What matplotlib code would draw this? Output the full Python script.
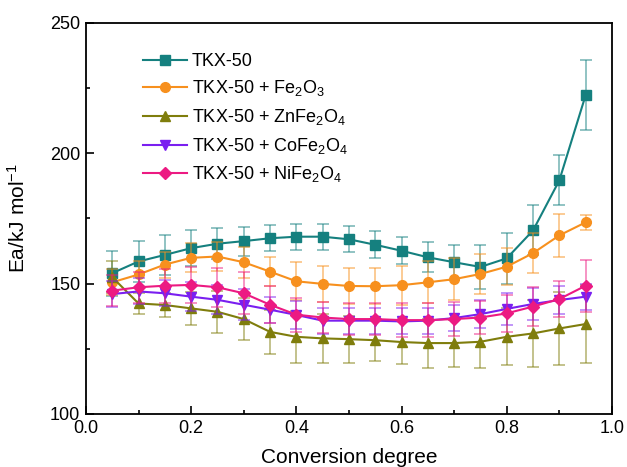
import matplotlib.pyplot as plt
import numpy as np
from matplotlib.ticker import MultipleLocator

plt.rcParams['font.family'] = ['Liberation Sans', 'DejaVu Sans']
plt.rcParams['mathtext.fontset'] = 'custom'
plt.rcParams['mathtext.rm'] = 'Liberation Sans'
plt.rcParams['mathtext.it'] = 'Liberation Sans'

# conversion degree (alpha)
alpha = [0.05, 0.10, 0.15, 0.20, 0.25, 0.30, 0.35, 0.40, 0.45, 0.50,
         0.55, 0.60, 0.65, 0.70, 0.75, 0.80, 0.85, 0.90, 0.95]

# activation energy, kJ/mol
ea_tkx = [154.0, 158.5, 161.0, 163.6, 165.3, 166.3, 167.4, 168.0, 168.0, 167.0,
          164.9, 162.6, 160.1, 158.2, 156.4, 159.7, 170.4, 189.6, 222.3]
err_tkx = [8.7, 8.0, 7.8, 6.8, 6.0, 5.6, 5.0, 5.0, 5.0, 5.0,
           5.2, 5.2, 5.8, 6.8, 8.6, 9.8, 9.6, 9.6, 13.5]

ea_fe2o3 = [150.5, 153.5, 157.3, 159.9, 160.4, 158.2, 154.6, 150.9, 149.9, 149.1,
            149.0, 149.4, 150.5, 151.7, 153.7, 156.5, 161.7, 168.5, 173.5]
err_fe2o3 = [5.0, 5.0, 5.0, 5.5, 5.5, 6.0, 5.5, 7.3, 7.0, 7.0,
             7.0, 7.5, 8.0, 8.0, 7.5, 7.0, 7.7, 8.3, 3.0]

ea_zn = [152.5, 142.4, 141.8, 140.5, 139.2, 136.4, 131.5, 129.6, 129.0, 128.7,
         128.3, 127.6, 127.2, 127.2, 127.7, 129.6, 130.9, 132.8, 134.5]
err_zn = [6.0, 4.0, 4.5, 6.3, 8.0, 8.0, 8.5, 10.0, 9.3, 9.0,
          8.0, 8.5, 9.4, 9.0, 10.0, 11.0, 13.0, 14.0, 14.8]

ea_co = [146.0, 147.0, 146.3, 145.0, 143.8, 141.9, 140.0, 138.0, 135.8, 135.8,
         135.8, 135.5, 135.8, 136.8, 138.3, 140.3, 142.2, 143.7, 145.0]
err_co = [5.0, 5.0, 5.0, 5.5, 5.5, 6.0, 5.0, 5.5, 5.0, 5.0,
          5.0, 5.0, 5.0, 5.0, 5.5, 6.0, 6.0, 5.5, 5.0]

ea_ni = [147.3, 148.6, 149.2, 149.5, 148.6, 146.3, 141.9, 138.1, 137.0, 136.4,
         136.4, 136.0, 136.0, 136.4, 137.0, 138.6, 141.2, 144.1, 149.2]
err_ni = [6.0, 6.0, 6.5, 7.0, 7.5, 8.0, 7.0, 6.5, 6.0, 6.0,
          6.0, 6.5, 6.5, 6.5, 6.5, 7.0, 7.5, 7.0, 10.0]

series = [
    (ea_tkx, err_tkx, 'TKX-50', '#15807f', 's'),
    (ea_fe2o3, err_fe2o3, 'TKX-50 + Fe$_2$O$_3$', '#f7901e', 'o'),
    (ea_zn, err_zn, 'TKX-50 + ZnFe$_2$O$_4$', '#7f7d0c', '^'),
    (ea_co, err_co, 'TKX-50 + CoFe$_2$O$_4$', '#7a1ff0', 'v'),
    (ea_ni, err_ni, 'TKX-50 + NiFe$_2$O$_4$', '#ec1a82', 'D'),
]

fig = plt.figure(figsize=(6.27, 4.67), dpi=100)
ax = fig.add_axes([0.137, 0.1135, 0.839, 0.8375])

for y, e, label, color, marker in series:
    ax.errorbar(alpha, y, yerr=e, fmt='none', ecolor=color, alpha=0.55,
                elinewidth=1.2, capsize=4, capthick=1.2)
    ms = 6 if marker == 'D' else 7
    ax.plot(alpha, y, marker=marker, color=color, lw=1.5, ms=ms, label=label)

ax.set_xlim(0.0, 1.0)
ax.set_ylim(100, 250)
ax.xaxis.set_minor_locator(MultipleLocator(0.1))
ax.yaxis.set_major_locator(MultipleLocator(50))
ax.yaxis.set_minor_locator(MultipleLocator(25))
ax.set_xticks(np.arange(0, 1.01, 0.2))
ax.set_xticklabels(['{:.1f}'.format(v) for v in np.arange(0, 1.01, 0.2)])
ax.tick_params(which='major', direction='in', length=5.5, width=1.2,
               labelsize=13, pad=4)
ax.tick_params(which='minor', direction='in', length=3, width=1.2)
for s in ax.spines.values():
    s.set_linewidth(1.3)

ax.set_xlabel('Conversion degree', fontsize=15)
ax.set_ylabel('Ea/kJ mol$^{-1}$', fontsize=15)
ax.xaxis.set_label_coords(0.5, -0.088)
ax.yaxis.set_label_coords(-0.108, 0.5)

ax.legend(loc='upper left', bbox_to_anchor=(0.078, 0.965), frameon=False,
          fontsize=13, handlelength=2.4, handletextpad=0.3, labelspacing=0.48)

fig.savefig('out.png', dpi=100)
